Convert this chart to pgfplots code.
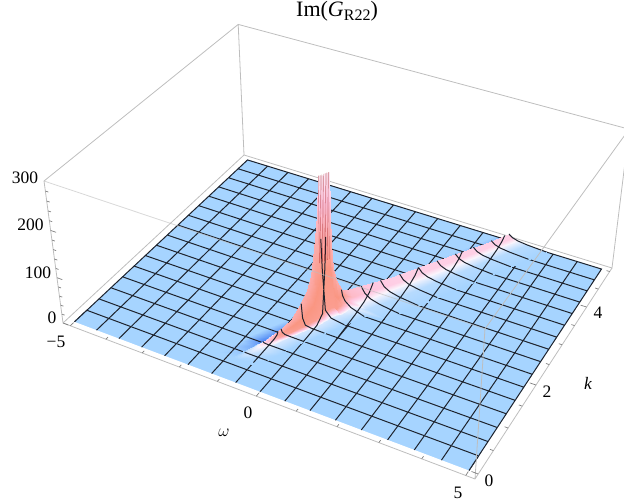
\documentclass[border=0pt]{standalone}
\usepackage{fontspec}
\setmainfont{Liberation Serif}
\usepackage{pgfplots}
\usepackage{pgfplotstable}
\pgfplotsset{compat=1.18}
\definecolor{boxgray}{RGB}{190,190,190}
\definecolor{meshblack}{RGB}{30,35,45}

% Perspective camera fitted to the corners of the reference box: (w,k,z) -> pixels
\pgfplotsset{
  /pgfplots/table/persp/.style={
    x expr={px(\thisrow{w},\thisrow{k},\thisrow{z})},
    y expr={py(\thisrow{w},\thisrow{k},\thisrow{z})},
    z expr=0},
  lines/.style={empty line=jump,unbounded coords=jump,no markers}
}

% floor of the surface
\pgfplotstableread{
w k z c
-5 5 0 .25
5 5 0 .25
-5 0 0 .25
5 0 0 .25
}\floor

% front row of the floor
\pgfplotstableread{
w k z c
-5 .3125 0 .25
5 .3125 0 .25
-5 0 0 .25
5 0 0 .25
}\frontrow

% blue darkening behind the ridge
\pgfplotstableread{
w k z c
2.162 5 0 .25
2.512 5 0 .15
.482 3 0 .25
.832 3 0 .15
-.358 2 0 .25
-.008 2 0 .1
-.862 1.4 0 .25
-.512 1.4 0 .08
-1.15 1 0 .25
-.8 1 0 .06
-1.28 .8 0 .25
-.93 .8 0 .15
-1.4 .6 0 .25
-1.05 .6 0 .22
-1.5 .45 0 .25
-1.15 .45 0 .25
}\shadow

% ridge and peak: one row per k, far to near
\pgfplotstableread{
w k z c
2.512 5 0 .15
2.562 5 15 .62
2.662 5 9 .62
2.812 5 5.25 .42
3.062 5 2.7 .29
3.562 5 0 .25
2.092 4.5 0 .15
2.142 4.5 17 .62
2.242 4.5 10.2 .62
2.392 4.5 5.95 .42
2.642 4.5 3.06 .29
3.142 4.5 0 .25
1.672 4 0 .15
1.722 4 19 .62
1.822 4 11.4 .62
1.972 4 6.65 .42
2.222 4 3.42 .29
2.722 4 0 .25
1.252 3.5 0 .15
1.302 3.5 22 .62
1.402 3.5 13.2 .62
1.552 3.5 7.7 .42
1.802 3.5 3.96 .29
2.302 3.5 0 .25
.832 3 0 .15
.882 3 26 .62
.982 3 15.6 .62
1.132 3 9.1 .42
1.382 3 4.68 .29
1.882 3 0 .25
.496 2.6 0 .15
.546 2.6 31 .66
.646 2.6 18.6 .66
.796 2.6 10.85 .42
1.046 2.6 5.58 .29
1.546 2.6 0 .25
.244 2.3 0 .15
.294 2.3 37 .72
.394 2.3 22.2 .75
.544 2.3 12.95 .45
.794 2.3 6.66 .3
1.294 2.3 0 .25
.16 2.2 0 .1
.21 2.2 41 .85
.24 2.2 30 .95
.31 2.2 20 .8
.46 2.2 10 .42
.81 2.2 0 .25
.093 2.12 0 .1
.143 2.12 63 .85
.173 2.12 30 1
.243 2.12 16 .9
.393 2.12 7 .4
.743 2.12 0 .25
.042 2.06 0 .1
.092 2.06 95 .85
.122 2.06 36 1
.192 2.06 12 .95
.342 2.06 4 .36
.692 2.06 0 .25
.009 2.02 0 .1
.059 2.02 180 .75
.089 2.02 63 1
.159 2.02 11 .95
.309 2.02 3 .36
.659 2.02 0 .25
-.008 2 0 .1
.042 2 300 .5
.072 2 105 1
.142 2 18 .95
.292 2 4.5 .36
.642 2 0 .25
-.05 1.95 0 .1
0 1.95 300 .5
.03 1.95 105 1
.1 1.95 18 .95
.25 1.95 4.5 .36
.6 1.95 0 .25
-.092 1.9 0 .1
-.042 1.9 300 .5
-.012 1.9 105 1
.058 1.9 18 .95
.208 1.9 4.5 .36
.558 1.9 0 .25
-.134 1.85 0 .1
-.084 1.85 300 .5
-.054 1.85 105 1
.016 1.85 18 .95
.166 1.85 4.5 .36
.516 1.85 0 .25
-.159 1.82 0 .1
-.109 1.82 222 .75
-.079 1.82 77.7 1
-.009 1.82 13.3 .95
.141 1.82 3.3 .36
.491 1.82 0 .25
-.201 1.77 0 .1
-.151 1.77 154 .85
-.121 1.77 53.9 1
-.051 1.77 9.2 .95
.099 1.77 2.3 .36
.449 1.77 0 .25
-.243 1.72 0 .1
-.193 1.72 100 .85
-.163 1.72 35 1
-.093 1.72 6 .95
.057 1.72 1.5 .36
.407 1.72 0 .25
-.302 1.65 0 .1
-.252 1.65 72 .85
-.222 1.65 25.2 1
-.152 1.65 4.3 .95
-.002 1.65 1.1 .36
.348 1.65 0 .25
-.361 1.58 0 .1
-.311 1.58 53 .85
-.281 1.58 18.55 1
-.211 1.58 3.18 .95
-.061 1.58 .8 .36
.289 1.58 0 .25
-.512 1.4 0 .08
-.462 1.4 22 .85
-.432 1.4 7.7 1
-.362 1.4 1.32 .95
-.212 1.4 .33 .36
.138 1.4 0 .25
-.67 1.2 0 .08
-.62 1.2 8 .8
-.59 1.2 2.8 .95
-.52 1.2 .48 .9
-.37 1.2 .12 .36
-.02 1.2 0 .25
-.8 1 0 .06
-.75 1 3 .6
-.72 1 1.05 .7
-.65 1 .18 .6
-.5 1 .05 .36
-.15 1 0 .25
-.93 .8 0 .15
-.88 .8 1 .38
-.85 .8 .35 .42
-.78 .8 .06 .42
-.63 .8 .02 .34
-.28 .8 0 .25
-1.05 .6 0 .22
-1 .6 .5 .28
-.97 .6 .18 .32
-.9 .6 .03 .34
-.75 .6 .01 .28
-.4 .6 0 .25
-1.15 .45 0 .25
-1.1 .45 0 .25
-1.07 .45 0 .25
-1 .45 0 .25
-.85 .45 0 .25
-.5 .45 0 .25
}\ridge

\begin{document}
\begin{tikzpicture}
\useasboundingbox (0,0) rectangle (624pt,502pt);
\begin{axis}[
    at={(0,0)},anchor=south west,
    scale only axis,width=624pt,height=502pt,
    view={0}{90},
    xmin=0,xmax=624,ymin=0,ymax=502,zmin=-1,zmax=1,
    y dir=reverse,
    hide axis,
    declare function={
      fu(\a)=0.02+0.96*(\a+5)/10;
      fv(\b)=0.02+0.96*\b/5;
      fh(\c)=\c/300;
      fw(\a,\b,\c)=1-0.11653*fu(\a)+0.16295*fv(\b)-0.0631*fh(\c);
      px(\a,\b,\c)=(356.65*fu(\a)+220.76*fv(\b)-21.78*fh(\c)+63)/fw(\a,\b,\c);
      py(\a,\b,\c)=(100.18*fu(\a)-142.74*fv(\b)-153.42*fh(\c)+323)/fw(\a,\b,\c);
    },
    colormap={ridge}{rgb255(0)=(50,110,240); rgb255(25)=(166,212,255);
      rgb255(45)=(250,245,252); rgb255(65)=(255,200,225); rgb255(100)=(250,150,130)},
    point meta min=0,point meta max=1,
    z buffer=none,
  ]
  % box edges behind the surface
  \addplot3[lines,boxgray,line width=.8pt] table[persp] {
w k z
-5.208 -.104 0
-5.208 5.104 0
5.208 5.104 0
5.208 5.104 300
-5.208 5.104 300
-5.208 -.104 300
-5.208 -.104 0

-5.208 5.104 0
-5.208 5.104 300
};
  \addplot3[surf,shader=flat,point meta=explicit,mesh/rows=2,mesh/cols=2] table[persp,meta=c] {\floor};
  \addplot3[surf,shader=interp,point meta=explicit,mesh/rows=8,mesh/cols=2] table[persp,meta=c] {\shadow};
  % mesh lines on the flat part
  \addplot3[lines,meshblack,line width=1pt] table[persp] {
w k z
-5 .625 0
5 .625 0

-5 .9375 0
5 .9375 0

-5 1.25 0
5 1.25 0

-5 1.5625 0
5 1.5625 0

-5 1.875 0
5 1.875 0

-5 2.1875 0
5 2.1875 0

-5 2.5 0
5 2.5 0

-5 2.8125 0
5 2.8125 0

-5 3.125 0
5 3.125 0

-5 3.4375 0
5 3.4375 0

-5 3.75 0
5 3.75 0

-5 4.0625 0
5 4.0625 0

-5 4.375 0
5 4.375 0

-5 4.6875 0
5 4.6875 0

-4.375 0 0
-4.375 5 0

-3.75 0 0
-3.75 5 0

-3.125 0 0
-3.125 5 0

-2.5 0 0
-2.5 5 0

-1.875 0 0
-1.875 5 0

-1.25 0 0
-1.25 5 0

-.625 0 0
-.625 5 0

0 0 0
0 5 0

.625 0 0
.625 5 0

1.25 0 0
1.25 5 0

1.875 0 0
1.875 5 0

2.5 0 0
2.5 5 0

3.125 0 0
3.125 5 0

3.75 0 0
3.75 5 0

4.375 0 0
4.375 5 0

-5 0 0
-5 5 0
5 5 0
5 0 0
};
  \addplot3[surf,shader=interp,point meta=explicit,mesh/rows=26,mesh/cols=6] table[persp,meta=c] {\ridge};
  % front row of the floor and its mesh, on top of the shaded parts
  \addplot3[surf,shader=flat,point meta=explicit,mesh/rows=2,mesh/cols=2] table[persp,meta=c] {\frontrow};
  \addplot3[fill=white,draw=none,no markers] table[persp] {
w k z
-5.208 -.104 0
5.208 -.104 0
5 0 0
-5 0 0
};
  \addplot3[lines,meshblack,line width=1pt] table[persp] {
w k z
-5 .3125 0
5 .3125 0

-4.375 0 0
-4.375 .3125 0

-3.75 0 0
-3.75 .3125 0

-3.125 0 0
-3.125 .3125 0

-2.5 0 0
-2.5 .3125 0

-1.875 0 0
-1.875 .3125 0

-1.25 0 0
-1.25 .3125 0

-.625 0 0
-.625 .3125 0

0 0 0
0 .3125 0

.625 0 0
.625 .3125 0

1.25 0 0
1.25 .3125 0

1.875 0 0
1.875 .3125 0

2.5 0 0
2.5 .3125 0

3.125 0 0
3.125 .3125 0

3.75 0 0
3.75 .3125 0

4.375 0 0
4.375 .3125 0

-5 0 0
-5 .3125 0

5 0 0
5 .3125 0
};
  % mesh lines where they climb the ridge
  \addplot3[lines,meshblack,line width=1pt] table[persp] {
w k z
2.562 5 15
2.662 5 9
2.812 5 5.25
3.062 5 2.7
3.562 5 0

2.299 4.6875 16
2.399 4.6875 9.6
2.549 4.6875 5.6
2.799 4.6875 2.88
3.299 4.6875 0

2.037 4.375 17.5
2.137 4.375 10.5
2.287 4.375 6.1
2.537 4.375 3.15
3.037 4.375 0

1.775 4.0625 19
1.875 4.0625 11.4
2.025 4.0625 6.65
2.275 4.0625 3.42
2.775 4.0625 0

1.512 3.75 20.5
1.612 3.75 12.3
1.762 3.75 7.2
2.012 3.75 3.69
2.512 3.75 0

1.25 3.4375 22.5
1.35 3.4375 13.5
1.5 3.4375 7.9
1.75 3.4375 4.05
2.25 3.4375 0

.987 3.125 25
1.087 3.125 15
1.237 3.125 8.75
1.487 3.125 4.5
1.987 3.125 0

.725 2.8125 28
.825 2.8125 16.8
.975 2.8125 9.8
1.225 2.8125 5
1.725 2.8125 0

.462 2.5 33
.562 2.5 19.8
.712 2.5 11.5
.962 2.5 5.9
1.462 2.5 0

.2 2.1875 43
.23 2.1875 30
.3 2.1875 20
.45 2.1875 10
.8 2.1875 0

-.063 1.875 170
-.033 1.875 105
.037 1.875 18
.187 1.875 4.5
.537 1.875 0

-.325 1.5625 48
-.295 1.5625 16.8
-.225 1.5625 2.9
-.075 1.5625 .7
.275 1.5625 0

-.588 1.25 10
-.558 1.25 3.5
-.488 1.25 .6
-.338 1.25 .15
.012 1.25 0

-.79 .9375 2.5
-.76 .9375 .9
-.69 .9375 .15
-.54 .9375 .04
-.19 .9375 0

-.98 .625 .5
-.95 .625 .18
-.88 .625 .03
-.73 .625 .01
-.38 .625 0

-.625 1.2 8
-.625 1.17 2.5
-.625 1.087 .4
-.625 .908 .1
-.625 .492 0

0 1.95 170
0 1.914 105
0 1.831 13
0 1.652 1
0 1.236 0

.625 2.694 30
.625 2.575 18
.625 2.396 10.5
.625 2.099 5.4
.625 1.504 0

1.25 3.438 22.5
1.25 3.319 13.5
1.25 3.14 7.9
1.25 2.843 4
1.25 2.248 0

1.875 4.182 18
1.875 4.063 10.8
1.875 3.884 6.3
1.875 3.587 3.24
1.875 2.992 0

2.5 4.926 15
2.5 4.807 9
2.5 4.628 5.25
2.5 4.331 2.7
2.5 3.736 0
};
  % thin lines standing in the clipped part of the peak
  \addplot3[lines,red!60!black,line width=.4pt,opacity=.5] table[persp] {
w k z
-.084 1.85 120
-.084 1.85 300

-.063 1.875 120
-.063 1.875 300

-.042 1.9 120
-.042 1.9 300

-.02 1.925 120
-.02 1.925 300

0 1.95 120
0 1.95 300

.02 1.975 120
.02 1.975 300

.042 2 120
.042 2 300
};
  % box edges in front of the surface
  \addplot3[lines,boxgray,line width=.8pt] table[persp] {
w k z
-5.208 -.104 0
5.208 -.104 0
5.208 5.104 0

5.208 -.104 0
5.208 -.104 300
5.208 5.104 300
};
  \addplot3[lines,boxgray,line width=.8pt,opacity=.6] table[persp] {
w k z
5.208 -.104 300
-5.208 -.104 300
};
  % tick marks on the three edges
  \addplot3[lines,gray,line width=.7pt] table[persp] {
w k z
-5.208 -.104 0
-5.058 -.104 0

-5.208 -.104 20
-5.128 -.104 20

-5.208 -.104 40
-5.128 -.104 40

-5.208 -.104 60
-5.128 -.104 60

-5.208 -.104 80
-5.128 -.104 80

-5.208 -.104 100
-5.058 -.104 100

-5.208 -.104 120
-5.128 -.104 120

-5.208 -.104 140
-5.128 -.104 140

-5.208 -.104 160
-5.128 -.104 160

-5.208 -.104 180
-5.128 -.104 180

-5.208 -.104 200
-5.058 -.104 200

-5.208 -.104 220
-5.128 -.104 220

-5.208 -.104 240
-5.128 -.104 240

-5.208 -.104 260
-5.128 -.104 260

-5.208 -.104 280
-5.128 -.104 280

-5 -.104 0
-5 -.02 0

-4 -.104 0
-4 -.05 0

-3 -.104 0
-3 -.05 0

-2 -.104 0
-2 -.05 0

-1 -.104 0
-1 -.05 0

0 -.104 0
0 -.02 0

1 -.104 0
1 -.05 0

2 -.104 0
2 -.05 0

3 -.104 0
3 -.05 0

4 -.104 0
4 -.05 0

5 -.104 0
5 -.02 0

5.208 0 0
5.058 0 0

5.208 .5 0
5.128 .5 0

5.208 1 0
5.128 1 0

5.208 1.5 0
5.128 1.5 0

5.208 2 0
5.058 2 0

5.208 2.5 0
5.128 2.5 0

5.208 3 0
5.128 3 0

5.208 3.5 0
5.128 3.5 0

5.208 4 0
5.058 4 0

5.208 4.5 0
5.128 4.5 0

5.208 5 0
5.128 5 0
};
  \node[font=\fontsize{17.5}{20}\selectfont] at (axis cs:25,178,0) {300};
  \node[font=\fontsize{17.5}{20}\selectfont] at (axis cs:30.5,225,0) {200};
  \node[font=\fontsize{17.5}{20}\selectfont] at (axis cs:38,273,0) {100};
  \node[font=\fontsize{17.5}{20}\selectfont] at (axis cs:52,318,0) {0};
  \node[font=\fontsize{17.5}{20}\selectfont] at (axis cs:56,342,0) {\char"2212 5};
  \node[font=\fontsize{17.5}{20}\selectfont] at (axis cs:248,413,0) {0};
  \node[font=\fontsize{17.5}{20}\selectfont] at (axis cs:458,493,0) {5};
  \node[font=\fontsize{17.5}{20}\selectfont] at (axis cs:489,481,0) {0};
  \node[font=\fontsize{17.5}{20}\selectfont] at (axis cs:547,392,0) {2};
  \node[font=\fontsize{17.5}{20}\selectfont] at (axis cs:598,313,0) {4};
  \node[font=\fontsize{17.5}{20}\selectfont] at (axis cs:224,433,0) {$\omega$};
  \node[font=\fontsize{17.5}{20}\selectfont] at (axis cs:588,383,0) {\textit{k}};
  \node[font=\fontsize{22}{24}\selectfont] at (axis cs:337,11,0) {Im(\textit{G}\raisebox{-.2em}{\fontsize{16}{18}\selectfont R22})};
\end{axis}
\end{tikzpicture}
\end{document}
